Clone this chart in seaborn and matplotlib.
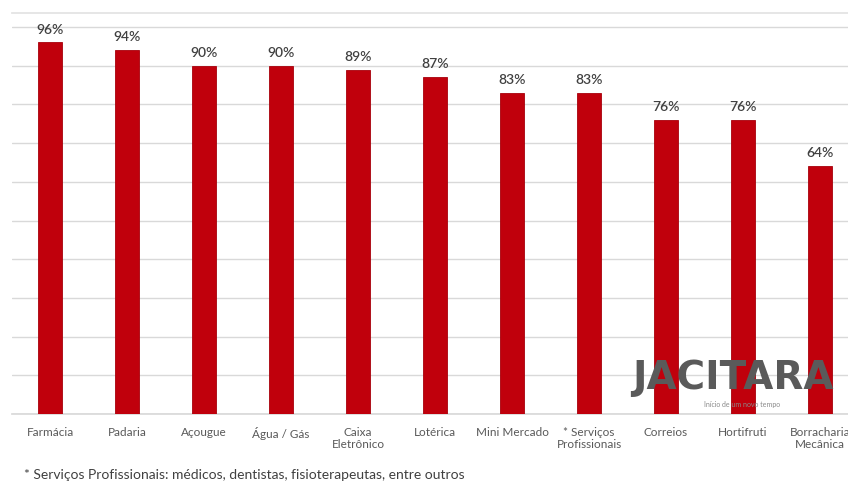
import matplotlib
matplotlib.use("Agg")
import matplotlib.pyplot as plt
import seaborn as sns
import pandas as pd

categories = ["Farmácia", "Padaria", "Açougue", "Água / Gás", "Caixa\nEletrônico",
              "Lotérica", "Mini Mercado", "* Serviços\nProfissionais", "Correios",
              "Hortifruti", "Borracharia\nMecânica"]
values = [96, 94, 90, 90, 89, 87, 83, 83, 76, 76, 64]
value_labels = [f"{v}%" for v in values]
footnote = "* Serviços Profissionais: médicos, dentistas, fisioterapeutas, entre outros"

sns.set_theme(style="white")
plt.rcParams["font.family"] = ["Lato", "DejaVu Sans"]

df = pd.DataFrame({"cat": categories, "val": values})

W, H = 848, 483
fig = plt.figure(figsize=(W / 100, H / 100), dpi=100)
left_px, right_px, top_px, base_px = 11.5, 848, 13, 414
ax = fig.add_axes([left_px / W, 1 - base_px / H, (right_px - left_px) / W, (base_px - top_px) / H])

bar_red = "#C0000C"
sns.barplot(data=df, x="cat", y="val", color=bar_red, width=0.31, saturation=1,
            ax=ax, zorder=3)
for p in ax.patches:
    p.set_edgecolor("#A8000A")
    p.set_linewidth(0.6)

step = 77.0
ax.set_xlim(-0.5, -0.5 + (right_px - left_px) / step)
ax.set_ylim(0, 100 * (base_px - top_px) / (387.0))
ax.set_yticks(range(0, 101, 10))
ax.yaxis.grid(True, color="#D9D9D9", linewidth=1, zorder=0)
ax.set_yticklabels([])
ax.tick_params(axis="y", length=0)
ax.tick_params(axis="x", length=0, pad=9, labelsize=8.5, labelcolor="#595959")
ax.set_xlabel("")
ax.set_ylabel("")
for s in ["left", "right"]:
    ax.spines[s].set_visible(False)
ax.spines["top"].set_color("#E3E3E3")
ax.spines["bottom"].set_color("#D9D9D9")

for i, (v, lab) in enumerate(zip(values, value_labels)):
    ax.annotate(lab, (i, v), xytext=(0, 5), textcoords="offset points",
                ha="center", va="bottom", fontsize=10, fontweight="semibold",
                color="#404040", zorder=5)

# logo watermark
fig.text(632 / W, 1 - 378 / H, "JACITARA", ha="left", va="center", fontsize=28,
         fontweight="bold", family="DejaVu Sans", color="#5A5A5A", zorder=10)
fig.text(742 / W, 1 - 405 / H, "Início de um novo tempo", ha="center", va="center",
         fontsize=5, color="#8A8A8A", zorder=1)

fig.text(24 / W, 1 - 475 / H, footnote, ha="left", va="center", fontsize=10, color="#404040")

fig.savefig("out.png", dpi=100)
